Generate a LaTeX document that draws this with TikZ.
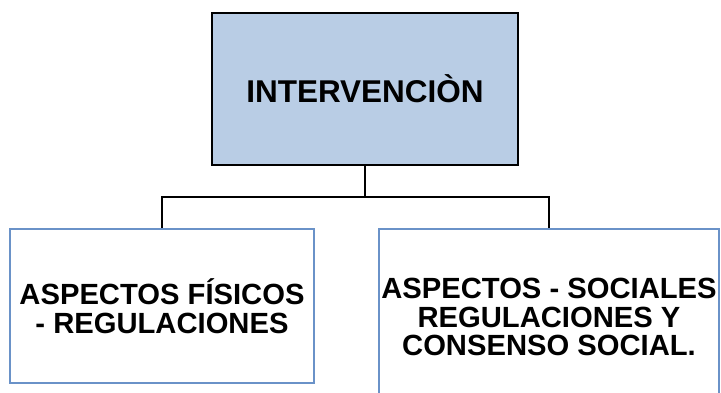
\documentclass[tikz,border=0pt]{standalone}
\usepackage{fontspec}
\setmainfont{Liberation Sans}
\definecolor{topfill}{HTML}{B9CDE5}
\definecolor{boxline}{HTML}{6A92C8}
\begin{document}
\begin{tikzpicture}[x=1pt,y=-1pt,
        mainbox/.style={draw=black,line width=1.5pt,fill=topfill,inner sep=0pt,
            minimum width=306pt,minimum height=152pt,align=center,
            font=\fontsize{31.5}{36}\selectfont\bfseries},
        subbox/.style={draw=boxline,line width=1.5pt,fill=white,inner sep=0pt,
            align=center,font=\fontsize{29.2}{28.5}\selectfont\bfseries},
        link/.style={draw=black,line width=1.5pt}]
            \useasboundingbox (0,0) rectangle (721,392);
            \clip (0,0) rectangle (721,392);
            \node[mainbox] (I) at (365,89) {INTERVENCIÒN};
            \node[subbox,minimum width=304pt,minimum height=154pt] (F) at (162,306) {ASPECTOS FÍSICOS\\- REGULACIONES};
            \node[subbox,minimum width=340pt,minimum height=176pt] (S) at (549,317) {ASPECTOS - SOCIALES\\REGULACIONES Y\\CONSENSO SOCIAL.};
            \coordinate (J) at (365,197);
            
            \path [link] (I.south) -- (J);
            \path [link] (J) -| (F.north);
            \path [link] (J) -| (S.north);
        \end{tikzpicture}
\end{document}
